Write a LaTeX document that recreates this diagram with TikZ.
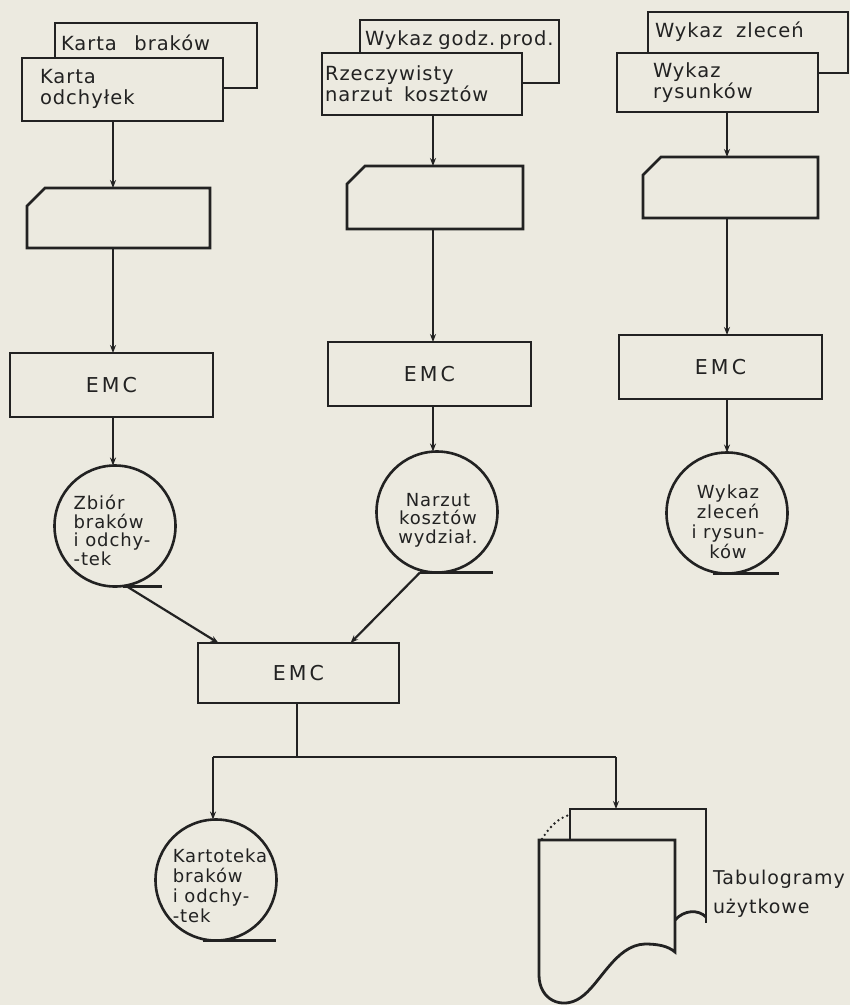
\documentclass[tikz,border=0pt]{standalone}
\usepackage{fontspec}
\setmainfont[LetterSpace=5]{DejaVu Sans}
\newfontfamily\emcfont[LetterSpace=15]{DejaVu Sans}
\usetikzlibrary{arrows.meta,calc}
\definecolor{paper}{HTML}{ECEAE0}
\definecolor{ink}{HTML}{222222}
\newcommand\drawinp[1]{\draw[boxline, fill=paper] ([yshift=-18pt]#1.north west) -- ([xshift=18pt]#1.north west) -- (#1.north east) -- (#1.south east) -- (#1.south west) -- cycle;}
\newcommand\drawbox[1]{\draw[boxline, fill=paper] (#1.north west) -- (#1.north east) -- (#1.south east) -- (#1.south west) -- cycle;}
\begin{document}
\begin{tikzpicture}[x=1pt,y=-1pt,
  every node/.style={inner sep=0pt, outer sep=0pt},
  boxline/.style={draw=ink, line width=2.8pt, line join=miter},
  frame/.style={rectangle},
  conn/.style={draw=ink, line width=2.2pt},
  arr/.style={conn, -{Stealth[length=8pt,width=6pt]}},
  lbl/.style={text=ink, font=\fontsize{19.5}{21}\selectfont, align=left},
  ctxt/.style={text=ink, font=\fontsize{18}{18.5}\selectfont},
  emctxt/.style={text=ink, font=\emcfont\fontsize{20.5}{24}\selectfont},
  store/.style={circle, draw=ink, line width=2.6pt, fill=paper, minimum size=121pt},
]
\fill[paper] (0,0) rectangle (850,1005);
\useasboundingbox (0,0) rectangle (850,1005);

% ---------- column 1 ----------
\node[frame, minimum width=202pt, minimum height=65pt] (back1) at (156,55.5) {};
\drawbox{back1}
\node[frame, minimum width=201pt, minimum height=63pt] (front1) at (122.5,89.5) {};
\drawbox{front1}
\node[lbl, anchor=base west] (tb1) at (61,50) {Karta\hspace{0.9em}braków};
\node[lbl, anchor=west] (tf1) at (40,88.5) {Karta\\odchyłek};
\node[frame, minimum width=183pt, minimum height=60pt] (in1) at (118.5,218) {};
\drawinp{in1}
\node[frame, minimum width=203pt, minimum height=64pt] (emc1) at (111.5,385) {};
\drawbox{emc1}
\node[emctxt] (et1) at (emc1) {EMC};
\node[store] (c1) at (115,526) {};
\node[ctxt, align=left] (ct1) at (112,530.5) {Zbiór\\braków\\i odchy-\\-tek};
\coordinate (x1) at (113,0);

% ---------- column 2 ----------
\node[frame, minimum width=199pt, minimum height=63pt] (back2) at (459.5,51.5) {};
\drawbox{back2}
\node[frame, minimum width=200pt, minimum height=62pt] (front2) at (422,84) {};
\drawbox{front2}
\node[lbl, anchor=base west] (tb2) at (365,45) {Wykaz\hspace{0.3em}godz.\hspace{0.2em}prod.};
\node[lbl, anchor=west] (tf2) at (325,83.5) {Rzeczywisty\\narzut\hspace{0.6em}kosztów};
\node[frame, minimum width=176pt, minimum height=63pt] (in2) at (435,197.5) {};
\drawinp{in2}
\node[frame, minimum width=203pt, minimum height=64pt] (emc2) at (429.5,374) {};
\drawbox{emc2}
\node[emctxt] (et2) at (emc2) {EMC};
\node[store] (c2) at (437,512) {};
\node[ctxt, align=center] (ct2) at (438,520) {Narzut\\kosztów\\wydział.};
\coordinate (x2) at (433,0);

% ---------- column 3 ----------
\node[frame, minimum width=200pt, minimum height=61pt] (back3) at (748,42.5) {};
\drawbox{back3}
\node[frame, minimum width=201pt, minimum height=59pt] (front3) at (717.5,82.5) {};
\drawbox{front3}
\node[lbl, anchor=base west] (tb3) at (655,37) {Wykaz\hspace{0.7em}zleceń};
\node[lbl, anchor=west] (tf3) at (653,83) {Wykaz\\rysunków};
\node[frame, minimum width=175pt, minimum height=61pt] (in3) at (730.5,187.5) {};
\drawinp{in3}
\node[frame, minimum width=203pt, minimum height=64pt] (emc3) at (720.5,367) {};
\drawbox{emc3}
\node[emctxt] (et3) at (emc3) {EMC};
\node[store] (c3) at (727,513) {};
\node[ctxt, align=center, font=\fontsize{18}{20}\selectfont] (ct3) at (728,522) {Wykaz\\zleceń\\i rysun-\\ków};
\coordinate (x3) at (727,0);

% ---------- bottom ----------
\node[frame, minimum width=201pt, minimum height=60pt] (emc4) at (298.5,673) {};
\drawbox{emc4}
\node[emctxt] (et4) at (emc4) {EMC};
\node[store] (c4) at (216,880) {};
\node[ctxt, align=left, font=\fontsize{18}{20}\selectfont] (ct4) at (220,886) {Kartoteka\\braków\\i odchy-\\-tek};
\coordinate (j1) at (213,757);
\coordinate (j2) at (616,757);
\node[frame, minimum width=136pt, minimum height=114pt] (tabback) at (638,866) {};

% tabulogram (document stack)
\fill[paper] (tabback.north west) rectangle (tabback.south east);
\draw[boxline] (570,840) -- (tabback.north west) -- (tabback.north east) -- (706,923);
\draw[boxline] (675,920) .. controls (684,910) and (698,909) .. (706,917);
\draw[ink, line width=2.6pt, line cap=round, dash pattern=on 0pt off 5pt] (542,839) .. controls (550,826) and (559,818) .. (569,815);
\node[frame, minimum width=136pt, minimum height=112pt] (tabfront) at (607,896) {};
\draw[boxline, fill=paper] (539,975) -- (tabfront.north west) -- (tabfront.north east) -- (675,952)
  .. controls (668,946) and (658,944) .. (645,944)
  .. controls (615,945) and (600,985) .. (580,998)
  .. controls (562,1010) and (539,1000) .. (539,975) -- cycle;
\node[lbl, anchor=west, font=\fontsize{19}{29}\selectfont] (tabt) at (713,894) {Tabulogramy\\użytkowe};

% ---------- connectors ----------
\draw[arr] (front1.south -| x1) -- (in1.north -| x1);
\draw[arr] (in1.south -| x1) -- (emc1.north -| x1);
\draw[arr] (emc1.south -| x1) -- (c1.north -| x1);

\draw[arr] (front2.south -| x2) -- (in2.north -| x2);
\draw[arr] (in2.south -| x2) -- (emc2.north -| x2);
\draw[arr] (emc2.south -| x2) -- (c2.north -| x2);

\draw[arr] (front3.south -| x3) -- (in3.north -| x3);
\draw[arr] (in3.south -| x3) -- (emc3.north -| x3);
\draw[arr] (emc3.south -| x3) -- (c3.north -| x3);

% storage tails
\draw[conn] ([xshift=8pt]c1.south) -- ([xshift=47pt]c1.south);
\draw[conn] ([xshift=-17pt]c2.south) -- ([xshift=56pt]c2.south);
\draw[conn] ([xshift=-14pt]c3.south) -- ([xshift=52pt]c3.south);
\draw[conn] ([xshift=-13pt]c4.south) -- ([xshift=60pt]c4.south);

\draw[arr] ([xshift=12pt]c1.south) -- ([xshift=-80pt]emc4.north);
\draw[arr] ([xshift=-17pt]c2.south) -- ([xshift=52pt]emc4.north);

\draw[conn] (emc4.south -| j1) ++(84pt,0) coordinate (e4s) -- (e4s |- j1);
\draw[conn] (j1) -- (j2);
\draw[arr] (j1) -- (j1 |- c4.north);
\draw[arr] (j2) -- (j2 |- tabback.north);
\end{tikzpicture}
\end{document}
